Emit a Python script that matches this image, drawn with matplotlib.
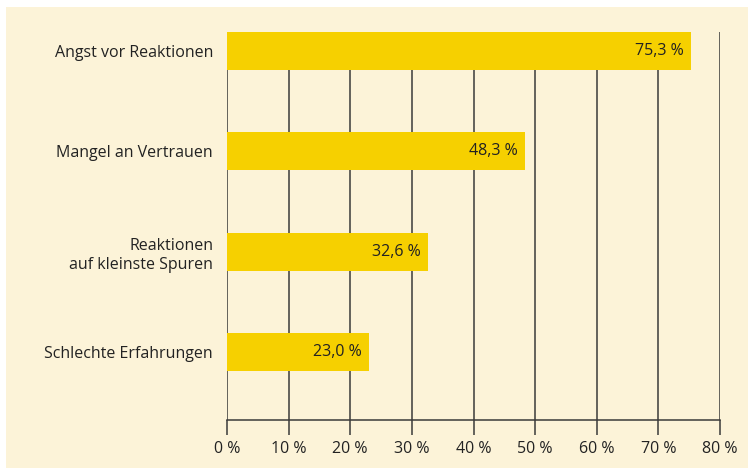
import numpy as np
import matplotlib.pyplot as plt
from matplotlib.patches import Rectangle

# Data
categories = ['Angst vor Reaktionen', 'Mangel an Vertrauen',
              'Reaktionen\nauf kleinste Spuren', 'Schlechte Erfahrungen']
values = [75.3, 48.3, 32.6, 23.0]
xticks = [0, 10, 20, 30, 40, 50, 60, 70, 80]

bg = '#FCF3D8'
bar_col = '#F6D000'
line_col = '#3a3a3a'
txt_col = '#222222'

plt.rcParams['font.family'] = ['Open Sans', 'DejaVu Sans']

W, H = 748, 468
fig = plt.figure(figsize=(W/100, H/100), dpi=100)
fig.patch.set_facecolor('white')
# cream panel behind the chart
fig.patches.append(Rectangle((6/W, 0), 1 - 6/W, 1 - 7/H, transform=fig.transFigure,
                             facecolor=bg, edgecolor='none', zorder=-10))

ax = fig.add_axes([227/W, 1 - 420/H, (720 - 227)/W, (420 - 32)/H])
ax.set_facecolor('none')

y = np.arange(len(categories))
ax.barh(y, values, height=0.38, color=bar_col, zorder=1)
ax.set_xlim(0, 80)
ax.set_ylim(3.68, -0.19)

for xv in xticks:
    ax.axvline(xv, color=line_col, lw=1.1, zorder=0.5)

for yi, v in zip(y, values):
    ax.text(v - 1.2, yi, ('%.1f %%' % v).replace('.', ','), ha='right', va='center',
            fontsize=11.5, color=txt_col, zorder=2)

ax.set_yticks(y)
ax.set_yticklabels(categories, fontsize=11.5, color=txt_col, linespacing=1.25)
ax.tick_params(axis='y', length=0, pad=10)
ax.set_xticks(xticks)
ax.set_xticklabels(['%d %%' % t for t in xticks], fontsize=11.5, color=txt_col)
ax.tick_params(axis='x', length=11, width=1.1, color=line_col, pad=4)

for s in ['top', 'right', 'left']:
    ax.spines[s].set_visible(False)
ax.spines['bottom'].set_color(line_col)
ax.spines['bottom'].set_linewidth(1.1)

fig.savefig('out.png', dpi=100)
